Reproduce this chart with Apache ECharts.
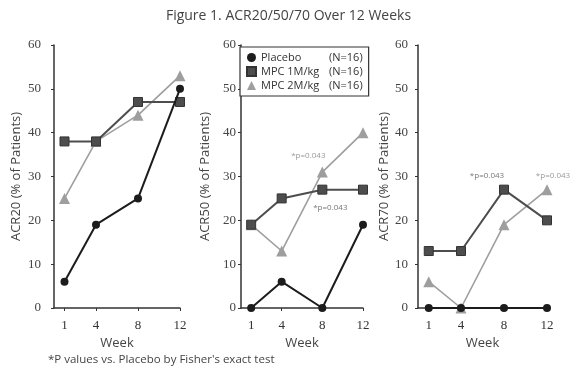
<!DOCTYPE html>
<html>
<head>
<meta charset="utf-8">
<script src="https://cdn.jsdelivr.net/npm/echarts@6/dist/echarts.min.js"></script>
<style>html,body{margin:0;padding:0;background:#fff}#c{width:577px;height:369px}</style>
</head>
<body>
<div id="c"></div>
<script>
var weeks = [1, 4, 8, 12];
var yTicks = [0, 10, 20, 30, 40, 50, 60];
var seriesNames = ['Placebo', 'MPC 1M/kg', 'MPC 2M/kg'];
var acr20Placebo = [6, 19, 25, 50];
var acr20Mpc1 = [38, 38, 47, 47];
var acr20Mpc2 = [25, 38, 44, 53];
var acr50Placebo = [0, 6, 0, 19];
var acr50Mpc1 = [19, 25, 27, 27];
var acr50Mpc2 = [19, 13, 31, 40];
var acr70Placebo = [0, 0, 0, 0];
var acr70Mpc1 = [13, 13, 27, 20];
var acr70Mpc2 = [6, 0, 19, 27];
var panelNames = ['ACR20 (% of Patients)', 'ACR50 (% of Patients)', 'ACR70 (% of Patients)'];
var pText = '*p=0.043';

var sansFont = 'Open Sans';
var serifFont = 'Liberation Serif';
var cPlacebo = '#1c1c1c', cMpc1 = '#4d4d4d', cMpc2 = '#9e9e9e';

var grids = [
  {left: 54, top: 45, width: 126, height: 263},
  {left: 241, top: 45, width: 122, height: 263},
  {left: 418, top: 45, width: 129, height: 263}
];
var yOffsets = [9, 1, 6];
var nameGaps = [22, 28, 20];

function mkX(i) {
  return {
    type: 'value', gridIndex: i, min: 0, max: 12, offset: 4,
    name: 'Week', nameLocation: 'middle', nameGap: 24,
    nameTextStyle: {fontFamily: sansFont, fontSize: 13, color: '#444'},
    axisLine: {show: true, lineStyle: {color: '#333', width: 1.5}},
    axisTick: {show: true, customValues: weeks, length: 3, lineStyle: {color: '#333'}},
    axisLabel: {customValues: weeks, fontFamily: serifFont, fontSize: 13, color: '#333', margin: 7},
    splitLine: {show: false}
  };
}
function mkY(i) {
  return {
    type: 'value', gridIndex: i, min: 0, max: 60, interval: 10, offset: yOffsets[i],
    name: panelNames[i], nameLocation: 'middle', nameGap: nameGaps[i], nameRotate: 90,
    nameTextStyle: {fontFamily: sansFont, fontSize: 13, color: '#444'},
    axisLine: {show: true, lineStyle: {color: '#333', width: 1.5}},
    axisTick: {show: true, length: 3, lineStyle: {color: '#333'}},
    axisLabel: {fontFamily: serifFont, fontSize: 13, color: '#444', margin: 4},
    splitLine: {show: false}
  };
}
function pairs(vals) { return weeks.map(function (w, k) { return [w, vals[k]]; }); }
function pLabel(x, y, color, dx, dy) {
  return {
    coord: [x, y], symbol: 'circle', symbolSize: 0,
    label: {show: true, formatter: pText, color: color, fontSize: 8, fontFamily: sansFont, offset: [dx, dy]}
  };
}
function mkSeries(kind, i, vals, marks) {
  var st = {
    0: {name: seriesNames[0], color: cPlacebo, symbol: 'circle', size: 8, width: 2},
    1: {name: seriesNames[1], color: cMpc1, symbol: 'rect', size: 9, width: 2},
    2: {name: seriesNames[2], color: cMpc2, symbol: 'triangle', size: 11, width: 1.6}
  }[kind];
  var s = {
    type: 'line', name: st.name, xAxisIndex: i, yAxisIndex: i,
    data: pairs(vals), symbol: st.symbol, symbolSize: st.size, showSymbol: true,
    lineStyle: {color: st.color, width: st.width},
    itemStyle: {color: st.color, borderColor: kind === 1 ? '#333' : st.color, borderWidth: kind === 1 ? 1 : 0},
    z: 10 - kind, animation: false
  };
  if (marks) {
    s.markPoint = {symbolSize: 0, data: marks, animation: false};
  }
  return s;
}

var option = {
  backgroundColor: '#fff',
  animation: false,
  title: {
    text: 'Figure 1. ACR20/50/70 Over 12 Weeks', left: 'center', top: 4,
    textStyle: {fontFamily: sansFont, fontSize: 14, fontWeight: 'normal', color: '#444'}
  },
  graphic: [{
    type: 'text', left: 48, top: 354,
    style: {text: "*P values vs. Placebo by Fisher's exact test", font: '11.5px "Open Sans"', fill: '#444'}
  }],
  legend: {
    left: 240, top: 47, orient: 'vertical', itemGap: 3, itemWidth: 9, itemHeight: 9,
    padding: [5, 6, 5, 6], borderColor: '#333', borderWidth: 1.2, backgroundColor: '#fff', z: 20,
    data: [
      {name: seriesNames[0], icon: 'circle', itemStyle: {color: cPlacebo}},
      {name: seriesNames[1], icon: 'rect', itemStyle: {color: cMpc1}},
      {name: seriesNames[2], icon: 'triangle', itemStyle: {color: cMpc2}}
    ],
    formatter: function (n) { return '{a|' + n + '}{b|(N=16)}'; },
    textStyle: {
      fontFamily: sansFont, fontSize: 11, color: '#333',
      rich: {a: {width: 68, fontFamily: sansFont, fontSize: 11, color: '#333'}, b: {fontFamily: sansFont, fontSize: 11, color: '#333'}}
    }
  },
  grid: grids,
  xAxis: [mkX(0), mkX(1), mkX(2)],
  yAxis: [mkY(0), mkY(1), mkY(2)],
  series: [
    mkSeries(0, 0, acr20Placebo), mkSeries(1, 0, acr20Mpc1), mkSeries(2, 0, acr20Mpc2),
    mkSeries(0, 1, acr50Placebo),
    mkSeries(1, 1, acr50Mpc1, [pLabel(weeks[2], acr50Mpc1[2], '#777', 8, 18)]),
    mkSeries(2, 1, acr50Mpc2, [pLabel(weeks[2], acr50Mpc2[2], '#999', -14, -16)]),
    mkSeries(0, 2, acr70Placebo),
    mkSeries(1, 2, acr70Mpc1, [pLabel(weeks[2], acr70Mpc1[2], '#777', -17, -14)]),
    mkSeries(2, 2, acr70Mpc2, [pLabel(weeks[3], acr70Mpc2[3], '#999', 6, -14)])
  ]
};
var chart = echarts.init(document.getElementById('c'), null, {renderer: 'canvas'});
chart.setOption(option);
</script>
</body>
</html>
